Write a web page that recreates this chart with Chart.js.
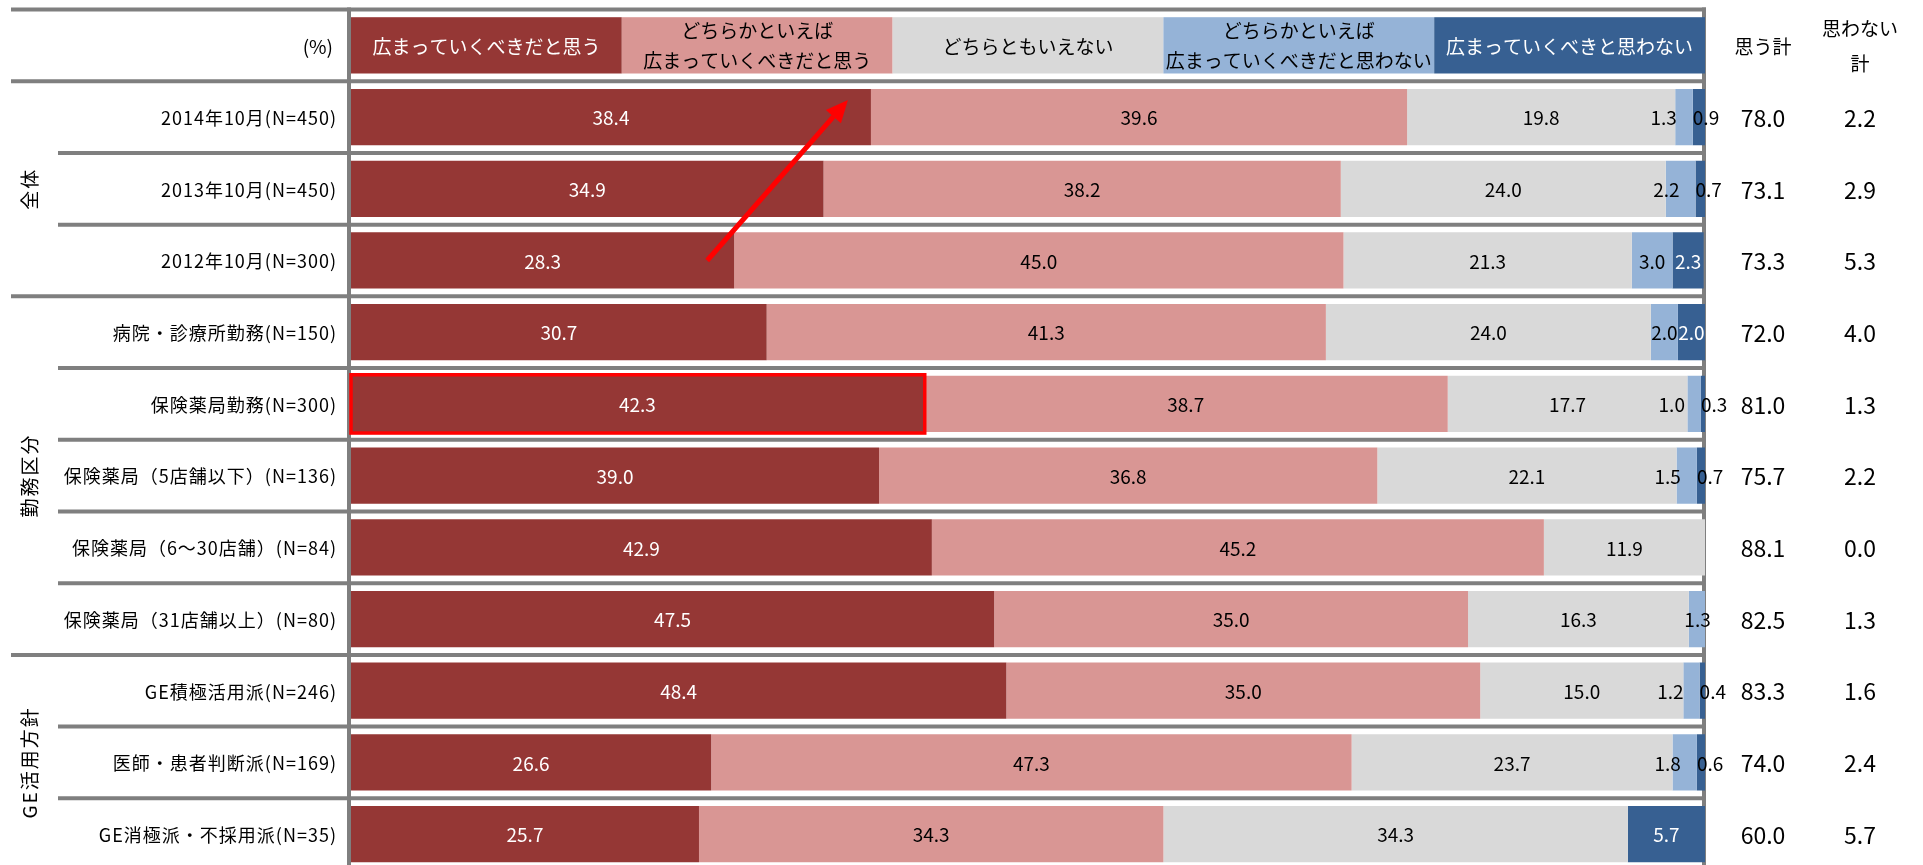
<!DOCTYPE html>
<html lang="ja">
<head>
<meta charset="utf-8">
<script src="https://cdn.jsdelivr.net/npm/chart.js@4.4.1/dist/chart.umd.min.js"></script>
<style>
  html, body { margin: 0; padding: 0; background: #ffffff; overflow: hidden; }
  canvas { display: block; }
</style>
</head>
<body>
<canvas id="chart" width="1923" height="870"></canvas>
<script>
// ---- data ----
const rowLabels = [
  '2014年10月(N=450)',
  '2013年10月(N=450)',
  '2012年10月(N=300)',
  '病院・診療所勤務(N=150)',
  '保険薬局勤務(N=300)',
  '保険薬局（5店舗以下）(N=136)',
  '保険薬局（6～30店舗）(N=84)',
  '保険薬局（31店舗以上）(N=80)',
  'GE積極活用派(N=246)',
  '医師・患者判断派(N=169)',
  'GE消極派・不採用派(N=35)'
];
const groupNames = ['全体', '勤務区分', 'GE活用方針'];
const groupSizes = [3, 5, 3];

const seriesNames = [
  ['広まっていくべきだと思う'],
  ['どちらかといえば', '広まっていくべきだと思う'],
  ['どちらともいえない'],
  ['どちらかといえば', '広まっていくべきだと思わない'],
  ['広まっていくべきと思わない']
];

const shouldSpread       = [38.4, 34.9, 28.3, 30.7, 42.3, 39.0, 42.9, 47.5, 48.4, 26.6, 25.7];
const ratherShouldSpread = [39.6, 38.2, 45.0, 41.3, 38.7, 36.8, 45.2, 35.0, 35.0, 47.3, 34.3];
const neitherNor         = [19.8, 24.0, 21.3, 24.0, 17.7, 22.1, 11.9, 16.3, 15.0, 23.7, 34.3];
const ratherShouldNot    = [1.3, 2.2, 3.0, 2.0, 1.0, 1.5, 0, 1.3, 1.2, 1.8, 0];
const shouldNotSpread    = [0.9, 0.7, 2.3, 2.0, 0.3, 0.7, 0, 0, 0.4, 0.6, 5.7];

const agreeTotal    = [78.0, 73.1, 73.3, 72.0, 81.0, 75.7, 88.1, 82.5, 83.3, 74.0, 60.0];
const disagreeTotal = [2.2, 2.9, 5.3, 4.0, 1.3, 2.2, 0.0, 1.3, 1.6, 2.4, 5.7];
const totalHeaders  = [['思う計'], ['思わない', '計']];
const unitLabel = '(%)';

// ---- styles ----
const seriesColors = ['#953735', '#D99694', '#D9D9D9', '#95B3D7', '#376092'];
const legendTextColors = ['#ffffff', '#000000', '#000000', '#000000', '#ffffff'];
const FONT = '"Noto Sans CJK JP", "Noto Sans", sans-serif';
const RULE = '#7F7F7F';

const seriesValues = [shouldSpread, ratherShouldSpread, neitherNor, ratherShouldNot, shouldNotSpread];
// the first category slot holds the legend header row
const labels = [''].concat(rowLabels);

const datasets = seriesValues.map((vals, i) => ({
  label: seriesNames[i].join(''),
  data: [null].concat(vals),
  backgroundColor: seriesColors[i],
  borderWidth: 0,
  barPercentage: 0.785,
  categoryPercentage: 1.0
}));

function bandStep(chart) {
  const a = chart.chartArea;
  return (a.bottom - a.top) / chart.data.labels.length;
}

// grid rules, header legend, row and group labels
const framePlugin = {
  id: 'frame',
  beforeDatasetsDraw(chart) {
    const { ctx, chartArea: a, scales: { x, y } } = chart;
    const step = bandStep(chart);
    const n = chart.data.labels.length;
    ctx.save();

    // horizontal rules between rows
    const groupStarts = [];
    let acc = 0;
    groupSizes.forEach(s => { groupStarts.push(acc); acc += s; });
    ctx.strokeStyle = RULE;
    ctx.lineWidth = 4;
    for (let k = 0; k < n; k++) {
      const yy = y.getPixelForValue(k) - step / 2;
      const row = k - 1; // index into rowLabels for the row below this rule
      const full = k <= 1 || groupStarts.includes(row);
      ctx.beginPath();
      ctx.moveTo(full ? 11 : 58, yy);
      ctx.lineTo(a.right + 1, yy);
      ctx.stroke();
    }
    // vertical rules at both edges of the plot
    const topY = y.getPixelForValue(0) - step / 2 - 2;
    ctx.beginPath();
    ctx.moveTo(a.left - 2, topY);
    ctx.lineTo(a.left - 2, a.bottom + 2);
    ctx.moveTo(a.right - 1, topY);
    ctx.lineTo(a.right - 1, a.bottom + 2);
    ctx.stroke();

    // legend header boxes
    const hy = y.getPixelForValue(0);
    const bh = step * 0.785;
    const span = 100 / seriesNames.length;
    ctx.font = '19px ' + FONT;
    ctx.textAlign = 'center';
    ctx.textBaseline = 'middle';
    seriesNames.forEach((lines, i) => {
      const x0 = x.getPixelForValue(i * span);
      const x1 = x.getPixelForValue((i + 1) * span);
      ctx.fillStyle = seriesColors[i];
      ctx.fillRect(x0, hy - bh / 2, x1 - x0, bh);
      ctx.fillStyle = legendTextColors[i];
      const cx = (x0 + x1) / 2;
      if (lines.length === 1) {
        ctx.fillText(lines[0], cx, hy + 1);
      } else {
        ctx.fillText(lines[0], cx, hy - 15);
        ctx.fillText(lines[1], cx, hy + 15);
      }
    });

    // unit label
    ctx.fillStyle = '#000';
    ctx.font = '19px ' + FONT;
    ctx.textAlign = 'right';
    ctx.fillText(unitLabel, 333, hy + 1);

    // total column headers
    const totalX = [a.right + 58, a.right + 155];
    ctx.textAlign = 'center';
    ctx.font = '19px ' + FONT;
    totalHeaders.forEach((lines, i) => {
      if (lines.length === 1) ctx.fillText(lines[0], totalX[i], hy + 1);
      else {
        ctx.fillText(lines[0], totalX[i], hy - 17);
        ctx.fillText(lines[1], totalX[i], hy + 18);
      }
    });

    // row labels
    ctx.textAlign = 'right';
    ctx.font = '18px ' + FONT;
    ctx.letterSpacing = '1px';
    rowLabels.forEach((t, r) => {
      ctx.fillText(t, 337, y.getPixelForValue(r + 1) + 1);
    });
    ctx.letterSpacing = '0px';

    // group labels, rotated
    ctx.font = '19px ' + FONT;
    ctx.textAlign = 'center';
    let start = 0;
    groupNames.forEach((g, i) => {
      const yTop = y.getPixelForValue(start + 1);
      const yBot = y.getPixelForValue(start + groupSizes[i]);
      ctx.save();
      ctx.translate(30, (yTop + yBot) / 2);
      ctx.rotate(-Math.PI / 2);
      ctx.letterSpacing = '2px';
      ctx.fillText(g, 0, 0);
      ctx.restore();
      start += groupSizes[i];
    });

    ctx.restore();
  }
};

// value labels, totals and highlight marks
const valuePlugin = {
  id: 'values',
  afterDatasetsDraw(chart) {
    const { ctx, chartArea: a, scales: { y } } = chart;
    ctx.save();
    ctx.textBaseline = 'middle';
    ctx.textAlign = 'center';
    const metas = chart.data.datasets.map((d, i) => chart.getDatasetMeta(i));

    rowLabels.forEach((_, r) => {
      const idx = r + 1;
      ctx.font = '19px ' + FONT;
      const items = [];
      seriesValues.forEach((vals, s) => {
        const v = vals[r];
        if (!v) { items[s] = null; return; }
        const el = metas[s].data[idx];
        const left = Math.min(el.base, el.x), right = Math.max(el.base, el.x);
        const text = v.toFixed(1);
        const w = ctx.measureText(text).width;
        items[s] = { text, w, left, right, segW: right - left, cx: (left + right) / 2, cy: el.y };
      });
      // narrow last segment: text starts at its left edge, neighbour label moves clear
      const last = items[4];
      const prev = items[3];
      if (last && last.w > last.segW) {
        last.cx = last.left + last.w / 2;
        if (prev) {
          const limit = last.left - 16;
          if (prev.cx + prev.w / 2 > limit) prev.cx = limit - prev.w / 2;
        }
      }
      items.forEach((it, s) => {
        if (!it) return;
        let color = '#000';
        if (s === 0) color = '#fff';
        if (s === 4 && it.segW >= it.w) color = '#fff';
        ctx.fillStyle = color;
        ctx.fillText(it.text, it.cx, it.cy + 1);
      });

      // totals on the right
      ctx.fillStyle = '#000';
      ctx.font = '23px ' + FONT;
      const yy = y.getPixelForValue(idx) + 1;
      ctx.fillText(agreeTotal[r].toFixed(1), a.right + 58, yy);
      ctx.fillText(disagreeTotal[r].toFixed(1), a.right + 155, yy);
    });

    // highlight box around the 保険薬局勤務 first segment
    const boxEl = metas[0].data[rowLabels.indexOf('保険薬局勤務(N=300)') + 1];
    ctx.strokeStyle = '#FF0000';
    ctx.lineWidth = 3.5;
    ctx.strokeRect(boxEl.base, boxEl.y - boxEl.height / 2 - 1, boxEl.x - boxEl.base + 1, boxEl.height + 2);

    // trend arrow from 2012 to 2014
    const e12 = metas[0].data[rowLabels.indexOf('2012年10月(N=300)') + 1];
    const e14 = metas[0].data[rowLabels.indexOf('2014年10月(N=450)') + 1];
    const tx = e12.x - 27, ty = e12.y;
    const hx = e14.x - 23, hy = e14.y - 17;
    const ang = Math.atan2(hy - ty, hx - tx);
    const headLen = 22, headHalf = 10;
    const bx = hx - headLen * Math.cos(ang), by = hy - headLen * Math.sin(ang);
    ctx.strokeStyle = '#FF0000';
    ctx.fillStyle = '#FF0000';
    ctx.lineWidth = 5;
    ctx.beginPath();
    ctx.moveTo(tx, ty);
    ctx.lineTo(bx, by);
    ctx.stroke();
    ctx.beginPath();
    ctx.moveTo(hx, hy);
    ctx.lineTo(bx + headHalf * Math.sin(ang), by - headHalf * Math.cos(ang));
    ctx.lineTo(bx - headHalf * Math.sin(ang), by + headHalf * Math.cos(ang));
    ctx.closePath();
    ctx.fill();

    ctx.restore();
  }
};

new Chart(document.getElementById('chart'), {
  type: 'bar',
  data: { labels, datasets },
  options: {
    indexAxis: 'y',
    responsive: false,
    animation: false,
    devicePixelRatio: 1,
    layout: { padding: { left: 351, right: 218, top: 9.5, bottom: 0 } },
    scales: {
      x: { stacked: true, min: 0, max: 100, display: false },
      y: { stacked: true, display: false }
    },
    plugins: { legend: { display: false }, tooltip: { enabled: false } }
  },
  plugins: [framePlugin, valuePlugin]
});
</script>
</body>
</html>
